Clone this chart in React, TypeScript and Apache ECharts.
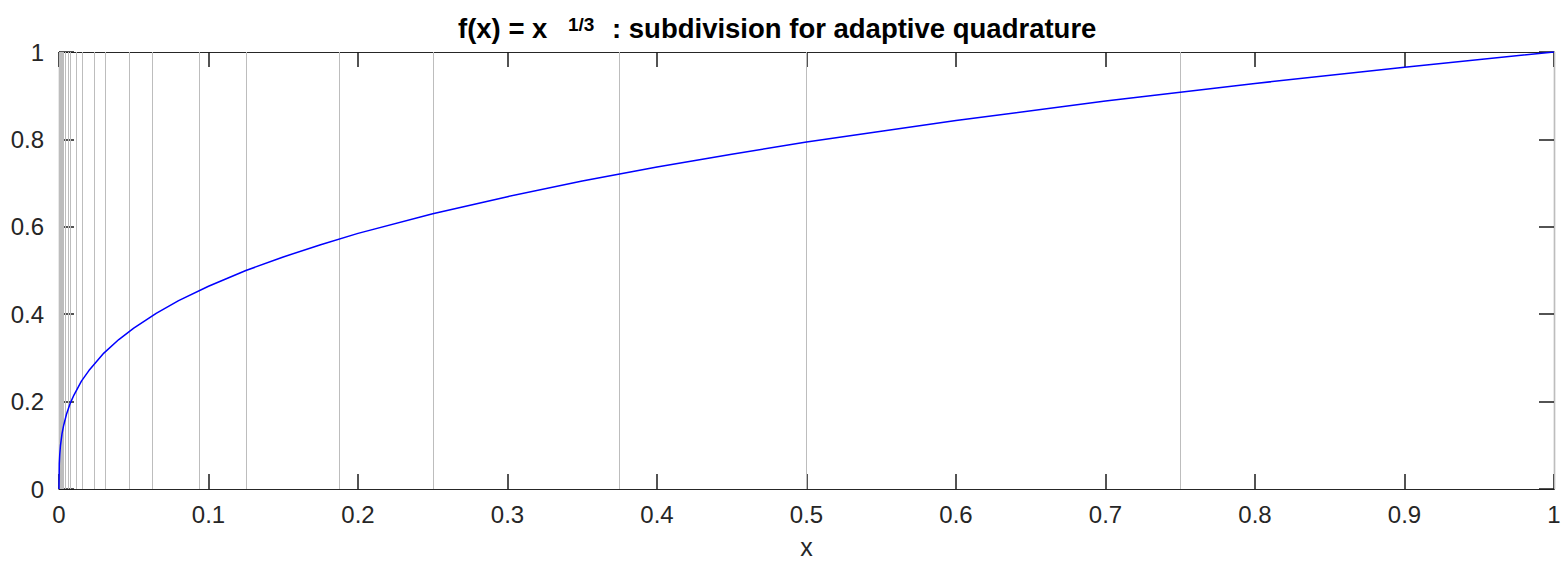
import React, { useEffect, useRef } from "react";
import * as echarts from "echarts";

// x positions of the subdivision lines
const breakpoints: number[] = [
  1, 0.75, 0.5, 0.375, 0.25, 0.1875, 0.125, 0.09375, 0.0625, 0.046875,
  0.03125, 0.0234375, 0.015625, 0.01171875, 0.0078125, 0.005859375,
  0.00390625, 0.0029296875, 0.001953125, 0.00146484375, 0.0009765625,
  0.000732421875, 0.00048828125, 0.0003662109375, 0.000244140625,
];

// curve samples
const curveX: number[] = [
  0, 0.0002, 0.0005, 0.001, 0.002, 0.003, 0.005, 0.0075, 0.01, 0.015, 0.02,
  0.03, 0.04, 0.05, 0.065, 0.08, 0.1, 0.125, 0.15, 0.175, 0.2, 0.25, 0.3, 0.35, 0.4,
  0.45, 0.5, 0.6, 0.7, 0.8, 0.9, 1,
];
const curveY: number[] = [
  0, 0.058, 0.079, 0.1, 0.126, 0.144, 0.171, 0.196, 0.215, 0.247, 0.271,
  0.311, 0.342, 0.368, 0.402, 0.431, 0.464, 0.5, 0.531, 0.559, 0.585, 0.63, 0.669,
  0.705, 0.737, 0.766, 0.794, 0.843, 0.888, 0.928, 0.965, 1,
];

const titleMain = "f(x) = x";
const titleSup = "1/3";
const titleRest = ": subdivision for adaptive quadrature";
const xName = "x";

const FONT = "'Liberation Sans', Arial, Helvetica, sans-serif";
const AXIS_COLOR = "#262626";
const TICK_COLOR = "#1a1a1a";

const mkTick = () => ({ show: true, inside: true, length: 15, lineStyle: { color: TICK_COLOR, width: 1.5 } });
const mkLine = (onZero: boolean) => ({ show: true, onZero, lineStyle: { color: AXIS_COLOR, width: 1.2 } });

export default function App() {
  const ref = useRef<HTMLDivElement>(null);
  useEffect(() => {
    if (!ref.current) return;
    const chart = echarts.init(ref.current, undefined, { renderer: "svg" });
    chart.setOption({
      animation: false,
      backgroundColor: "#ffffff",
      textStyle: { fontFamily: FONT },
      grid: { left: 59, right: 7, top: 52, bottom: 74, outerBoundsMode: "none" },
      xAxis: [
        {
          type: "value", min: 0, max: 1, interval: 0.1, position: "bottom",
          axisLine: mkLine(true), axisTick: mkTick(), splitLine: { show: false },
          axisLabel: { color: AXIS_COLOR, fontSize: 24, margin: 13, fontFamily: FONT },
          name: xName, nameLocation: "middle", nameGap: 58,
          nameTextStyle: { color: AXIS_COLOR, fontSize: 25, lineHeight: 18, verticalAlign: "middle", fontFamily: FONT },
        },
        {
          type: "value", min: 0, max: 1, interval: 0.1, position: "top",
          axisLine: mkLine(false), axisTick: mkTick(), splitLine: { show: false },
          axisLabel: { show: false },
        },
      ],
      yAxis: [
        {
          type: "value", min: 0, max: 1, interval: 0.2, position: "left",
          axisLine: mkLine(true), axisTick: mkTick(), splitLine: { show: false },
          axisLabel: { color: AXIS_COLOR, fontSize: 24, margin: 15, fontFamily: FONT },
        },
        {
          type: "value", min: 0, max: 1, interval: 0.2, position: "right",
          axisLine: mkLine(false), axisTick: mkTick(), splitLine: { show: false },
          axisLabel: { show: false },
        },
      ],
      graphic: [
        {
          type: "text", left: 458, top: 14,
          style: { text: titleMain, font: `bold 27.5px ${FONT}`, fill: "#000" },
        },
        {
          type: "text", left: 568, top: 15,
          style: { text: titleSup, font: `bold 19px ${FONT}`, fill: "#000" },
        },
        {
          type: "text", left: 612, top: 14,
          style: { text: titleRest, font: `bold 27.5px ${FONT}`, fill: "#000" },
        },
      ],
      series: [
        {
          type: "line",
          data: [],
          silent: true,
          markLine: {
            silent: true,
            precision: 14,
            symbol: ["none", "none"],
            label: { show: false },
            lineStyle: { color: "#bdbdbd", width: 1, type: "solid" },
            data: breakpoints.map((b) => ({ xAxis: b })),
          },
        },
        {
          type: "line",
          z: 10,
          showSymbol: false,
          symbol: "none",
          lineStyle: { color: "#0000ff", width: 1.5 },
          data: curveX.map((x, i) => [x, curveY[i]]),
        },
      ],
    });
    return () => chart.dispose();
  }, []);
  return (
    <div
      ref={ref}
      style={{ position: "fixed", left: 0, top: 0, width: 1561, height: 563, background: "#fff" }}
    />
  );
}
